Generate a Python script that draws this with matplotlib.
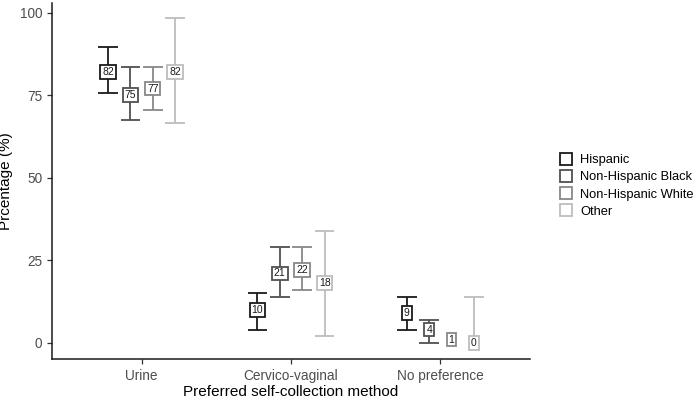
import numpy as np
import matplotlib
matplotlib.use("Agg")
import matplotlib.pyplot as plt
from matplotlib.lines import Line2D

plt.rcParams['font.family'] = ['Liberation Sans', 'DejaVu Sans']

# data (nan = no bound drawn)
methods = ["Urine", "Cervico-vaginal", "No preference"]
groups = ["Hispanic", "Non-Hispanic Black", "Non-Hispanic White", "Other"]
pct = {
    "Hispanic":           [82, 10, 9],
    "Non-Hispanic Black": [75, 21, 4],
    "Non-Hispanic White": [77, 22, 1],
    "Other":              [82, 18, 0],
}
lower = {
    "Hispanic":           [75.5, 4, 4],
    "Non-Hispanic Black": [67.5, 14, 0],
    "Non-Hispanic White": [70.5, 16, np.nan],
    "Other":              [66.5, 2, np.nan],
}
upper = {
    "Hispanic":           [89.5, 15, 14],
    "Non-Hispanic Black": [83.5, 29, 7],
    "Non-Hispanic White": [83.5, 29, np.nan],
    "Other":              [98.5, 34, 14],
}

colors = ["#1a1a1a", "#515151", "#888888", "#bdbdbd"]
offsets = [-0.225, -0.075, 0.075, 0.225]
cap = 0.066

fig = plt.figure(figsize=(7, 4.01), dpi=100)
ax = fig.add_axes([52 / 700, 42 / 401, 478 / 700, 356 / 401])

x = np.arange(1, len(methods) + 1)
for g, c, off in zip(groups, colors, offsets):
    for xi, yi, lo, hi in zip(x + off, pct[g], lower[g], upper[g]):
        for b in (lo, hi):
            if np.isnan(b):
                continue
            ax.plot([xi, xi], [yi, b], color=c, lw=1.3, zorder=2,
                    solid_capstyle="butt")
            ax.plot([xi - cap, xi + cap], [b, b], color=c, lw=1.3, zorder=2,
                    solid_capstyle="butt")
        ax.text(xi, yi, "%d" % yi, ha="center", va="center", fontsize=7.5,
                color="#1a1a1a", zorder=3,
                bbox=dict(boxstyle="square,pad=0.18", fc="white", ec=c, lw=1.3))

ax.set_xlim(0.4, 3.6)
ax.set_ylim(-4.9, 102.9)
ax.set_xticks(x)
ax.set_xticklabels(methods)
ax.set_yticks([0, 25, 50, 75, 100])
for side in ["top", "right"]:
    ax.spines[side].set_visible(False)
for side in ["left", "bottom"]:
    ax.spines[side].set_color("#1a1a1a")
    ax.spines[side].set_linewidth(1.1)
ax.tick_params(colors="#333333", labelcolor="#4d4d4d", labelsize=9.8,
               length=3.5, width=0.9)
ax.set_xlabel("Preferred self-collection method", fontsize=11, labelpad=2)
ax.set_ylabel("Prcentage (%)", fontsize=11, labelpad=5)

handles = [Line2D([], [], marker="s", linestyle="none", markersize=9.2,
                  markerfacecolor="white", markeredgecolor=c, markeredgewidth=1.3)
           for c in colors]
fig.legend(handles, groups, loc="center left", bbox_to_anchor=(552 / 700, 1 - 186 / 401),
           frameon=False, fontsize=9.3, handletextpad=0.5, labelspacing=0.4,
           handlelength=1.3, borderaxespad=0)

fig.savefig("out.png", dpi=100)
